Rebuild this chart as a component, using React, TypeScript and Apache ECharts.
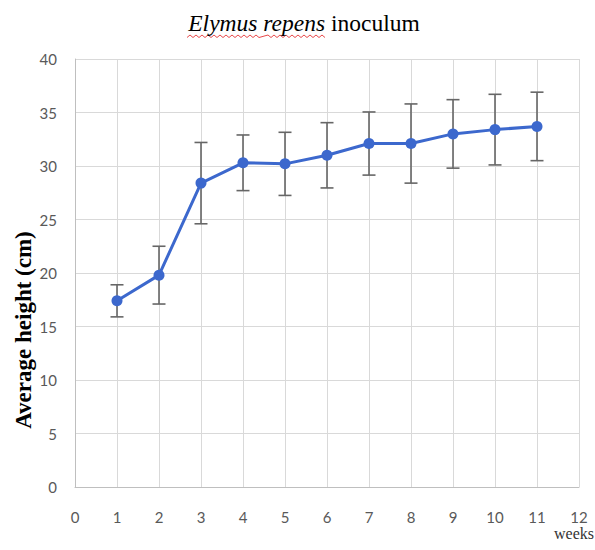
import React, { useEffect, useRef } from "react";
import * as echarts from "echarts";

const weeks = [1, 2, 3, 4, 5, 6, 7, 8, 9, 10, 11];
const meanHeight = [17.4, 19.8, 28.4, 30.3, 30.2, 31.0, 32.1, 32.1, 33.0, 33.4, 33.7];
const errorSize = [1.5, 2.7, 3.8, 2.6, 2.95, 3.05, 2.95, 3.7, 3.2, 3.3, 3.2];

const titleItalic = "Elymus repens";
const titleRest = " inoculum";
const yAxisTitle = "Average height (cm)";
const xAxisTitle = "weeks";

export default function App() {
  const ref = useRef<HTMLDivElement>(null);
  useEffect(() => {
    if (!ref.current) return;
    const chart = echarts.init(ref.current, undefined, { renderer: "svg" });
    const lineData = weeks.map((w, i) => [w, meanHeight[i]]);
    const errData = weeks.map((w, i) => [w, meanHeight[i] - errorSize[i], meanHeight[i] + errorSize[i]]);
    const labelFont = "Lato, 'Liberation Sans', sans-serif";
    const zig: number[][] = [];
    for (let x = 187; x <= 326; x += 3) zig.push([x, (Math.round((x - 187) / 3) % 2) ? 35 : 37.5]);
    chart.setOption({
      animation: false,
      backgroundColor: "#ffffff",
      title: {
        text: `{i|${titleItalic}}{n|${titleRest}}`,
        left: 299,
        textAlign: "center",
        top: 6,
        textStyle: {
          fontWeight: "normal",
          rich: {
            i: { fontFamily: "'Liberation Serif', serif", fontStyle: "italic", fontWeight: "normal", fontSize: 23.5, color: "#000" },
            n: { fontFamily: "'Liberation Serif', serif", fontWeight: "normal", fontSize: 23.5, color: "#000" },
          },
        },
      },
      grid: { left: 75, right: 16, top: 59, bottom: 63 },
      xAxis: {
        type: "value",
        min: 0,
        max: 12,
        interval: 1,
        axisLine: { show: true, lineStyle: { color: "#bfbfbf", width: 1 } },
        axisTick: { show: false },
        splitLine: { show: true, lineStyle: { color: "#d9d9d9", width: 1 } },
        axisLabel: { color: "#595959", fontSize: 15, fontFamily: labelFont, margin: 22 },
      },
      yAxis: {
        type: "value",
        min: 0,
        max: 40,
        interval: 5,
        axisLine: { show: true, lineStyle: { color: "#bfbfbf", width: 1 } },
        axisTick: { show: false },
        splitLine: { show: true, lineStyle: { color: "#d9d9d9", width: 1 } },
        axisLabel: { color: "#595959", fontSize: 15, fontFamily: labelFont, margin: 18 },
      },
      graphic: [
        {
          type: "text",
          x: 23,
          y: 330,
          rotation: Math.PI / 2,
          style: {
            text: yAxisTitle,
            fontFamily: "'Liberation Serif', serif",
            fontWeight: "bold",
            fontSize: 23,
            fill: "#000",
            align: "center",
            verticalAlign: "middle",
          },
        },
        {
          type: "text",
          x: 594,
          y: 533,
          style: {
            text: xAxisTitle,
            fontFamily: "'Liberation Serif', serif",
            fontSize: 16,
            fill: "#333",
            align: "right",
            verticalAlign: "middle",
          },
        },
        {
          type: "polyline",
          shape: { points: zig.filter((p) => p[0] < 262 || p[0] > 267) },
          style: { stroke: "#e8484a", lineWidth: 1, fill: "none" },
        },
      ],
      series: [
        {
          type: "custom",
          z: 1,
          data: errData,
          renderItem: (params: any, api: any) => {
            const x = api.value(0);
            const lo = api.coord([x, api.value(1)]);
            const hi = api.coord([x, api.value(2)]);
            const hw = 6.5;
            const style = { stroke: "#666666", lineWidth: 1.6 };
            return {
              type: "group",
              children: [
                { type: "line", shape: { x1: hi[0], y1: hi[1], x2: lo[0], y2: lo[1] }, style },
                { type: "line", shape: { x1: hi[0] - hw, y1: hi[1], x2: hi[0] + hw, y2: hi[1] }, style },
                { type: "line", shape: { x1: lo[0] - hw, y1: lo[1], x2: lo[0] + hw, y2: lo[1] }, style },
              ],
            };
          },
        },
        {
          type: "line",
          z: 3,
          data: lineData,
          symbol: "circle",
          symbolSize: 11,
          showSymbol: true,
          lineStyle: { color: "#3c68cd", width: 3 },
          itemStyle: { color: "#3c68cd" },
        },
      ],
    });
    return () => chart.dispose();
  }, []);
  return <div ref={ref} style={{ position: "fixed", left: 0, top: 0, width: 595, height: 550 }} />;
}
